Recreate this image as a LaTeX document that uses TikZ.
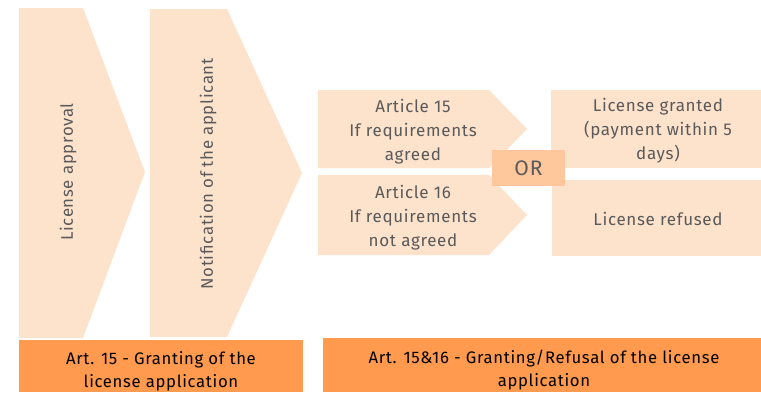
\documentclass[tikz,border=0pt]{standalone}
\usepackage{fontspec}
\setmainfont{Fira Sans}[LetterSpace=4]
\definecolor{peach}{HTML}{FDE2CC}
\definecolor{orbox}{HTML}{FFC79B}
\definecolor{orange}{HTML}{FF9A4F}
\definecolor{txtgray}{HTML}{5A5A5A}
\tikzset{
  shapefill/.style={fill=peach, draw=none},
  graytext/.style={text=txtgray, font=\fontsize{17}{24}\selectfont, align=center, inner sep=0pt},
  rottext/.style={text=txtgray, font=\fontsize{16.8}{24}\selectfont, align=center, inner sep=0pt, rotate=90},
  bartext/.style={text=black, font=\fontsize{16.7}{23}\selectfont, align=center, inner sep=0pt},
}
\begin{document}
\begin{tikzpicture}[x=1pt,y=-1pt]
\useasboundingbox (0,0) rectangle (761,392);
% big chevrons
\fill[shapefill] (19,8) -- (83,8) -- (145,172) -- (83,338) -- (19,338) -- cycle;
\fill[shapefill] (150,9) -- (227,9) -- (302,173) -- (227,337) -- (150,337) -- cycle;
\node[rottext] (approval) at (68,172) {License approval};
\node[rottext] (notif) at (208,174) {Notification of the applicant};
% middle chevrons
\fill[shapefill] (318,90) -- (489,90) -- (527,129) -- (489,168) -- (318,168) -- cycle;
\fill[shapefill] (318,175) -- (489,175) -- (527,215) -- (489,255) -- (318,255) -- cycle;
\node[graytext] (art15) at (413,131.5) {Article 15\\If requirements\\agreed};
\node[graytext] (art16) at (413,217.5) {Article 16\\If requirements\\not agreed};
% right boxes
\fill[shapefill] (551,90) rectangle (761,168);
\fill[shapefill] (552,180) rectangle (761,256);
\node[graytext] (granted) at (658,131) {License granted\\(payment within 5\\days)};
\node[graytext] (refused) at (658,219) {License refused};
% OR box
\node[fill=orbox, minimum width=73pt, minimum height=36pt, inner sep=0pt, text=txtgray, font=\fontsize{21}{21}\selectfont] (or) at (528.5,168) {OR};
% bottom bars
\fill[orange] (19,340) rectangle (303,392);
\fill[orange] (323,338) rectangle (761,392);
\node[bartext] (bar1) at (161,371) {Art. 15 - Granting of the\\license application};
\node[bartext] (bar2) at (544,370) {Art. 15\&16 - Granting/Refusal of the license\\application};
\end{tikzpicture}
\end{document}
